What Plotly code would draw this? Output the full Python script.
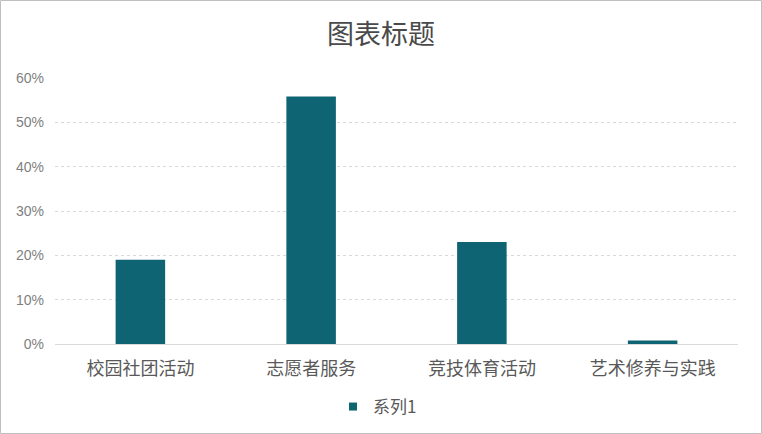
import plotly.graph_objects as go

categories = ["校园社团活动", "志愿者服务", "竞技体育活动", "艺术修养与实践"]
values = [0.19, 0.558, 0.23, 0.008]
series_name = "系列1"
title_text = "图表标题"

W, H = 762, 434
ml, mr, mt, mb = 55, 24, 78, 90
pw = W - ml - mr
ph = H - mt - mb
bar_color = "#0F6473"

fig = go.Figure()
fig.add_trace(go.Bar(
    x=categories, y=values, name=series_name,
    marker=dict(color=bar_color, line=dict(width=0)),
    width=0.29, showlegend=False,
))
fig.add_trace(go.Scatter(
    x=[None], y=[None], mode="markers", name=series_name,
    marker=dict(symbol="square", size=8, color=bar_color),
))

def px_x(p):
    return (p - ml) / pw

def px_y(p):
    return (H - mb - p) / ph

fig.update_layout(
    width=W, height=H,
    margin=dict(l=ml, r=mr, t=mt, b=mb, autoexpand=False),
    paper_bgcolor="white", plot_bgcolor="white",
    font=dict(family="Noto Sans CJK SC, sans-serif", color="#595959"),
    title=dict(text=title_text, x=0.5, xanchor="center", y=1 - 35 / H, yanchor="middle",
               font=dict(size=27, color="#4a4a4a", family="Noto Sans CJK SC")),
    showlegend=True,
    legend=dict(orientation="h", x=px_x(333), xanchor="left", y=px_y(407), yanchor="middle",
                font=dict(size=17, color="#595959"), bgcolor="rgba(0,0,0,0)"),
    yaxis=dict(range=[0, 0.6], dtick=0.1, tickformat=".0%",
               showgrid=True, gridcolor="#D9D9D9", griddash="dot", gridwidth=1,
               zeroline=False, showline=False, ticks="", automargin=False,
               ticklabelstandoff=10,
               tickfont=dict(size=14, color="#7f7f7f", family="Liberation Sans")),
    xaxis=dict(showline=True, linecolor="#D9D9D9", linewidth=1, ticks="", automargin=False,
               ticklabelstandoff=8,
               tickfont=dict(size=18, color="#595959")),
    shapes=[dict(type="rect", xref="paper", yref="paper",
                 x0=px_x(0.5), x1=px_x(W - 0.5), y0=px_y(H - 0.5), y1=px_y(0.5),
                 line=dict(color="#BFBFBF", width=1), layer="below")],
)

fig.write_html("out.html", config={"displayModeBar": False},
               post_script="document.body.style.margin='0';document.body.style.overflow='hidden';")
